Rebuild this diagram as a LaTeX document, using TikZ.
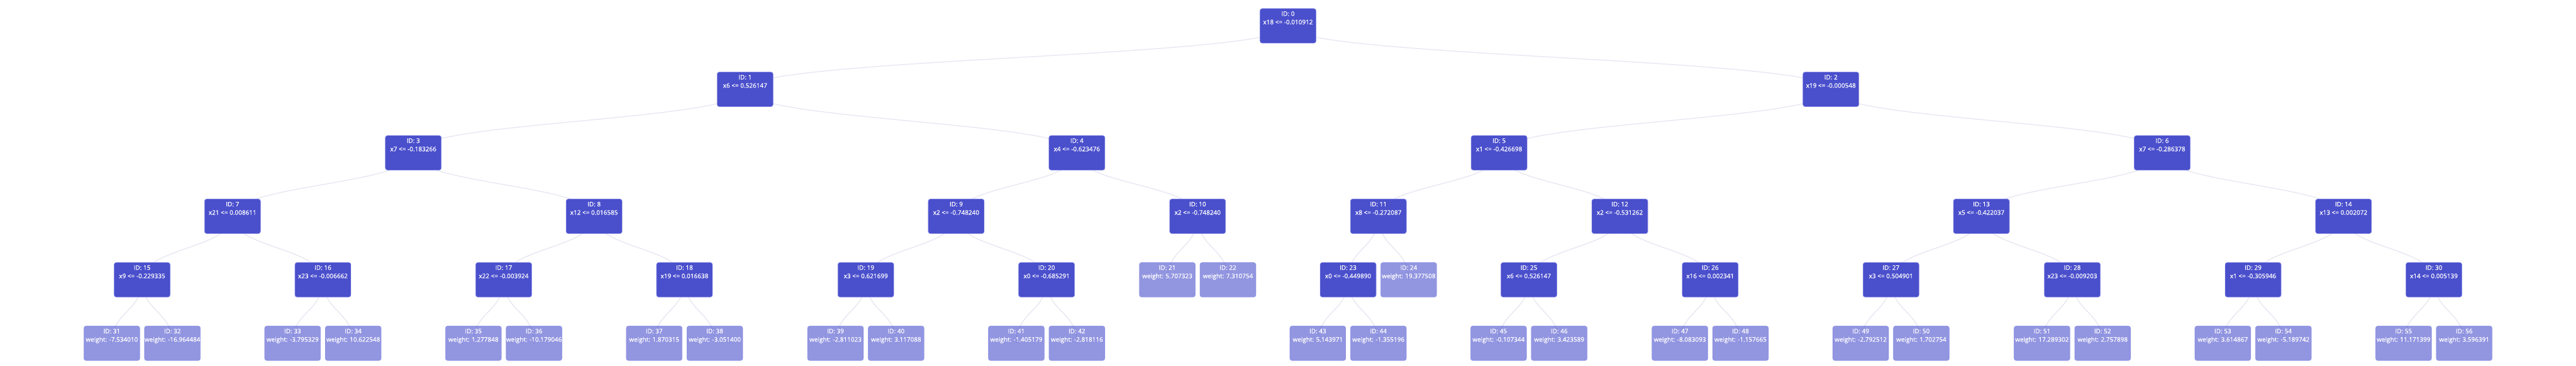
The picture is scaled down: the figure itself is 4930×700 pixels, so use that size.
\documentclass[tikz,border=0pt]{standalone}
\usepackage{fontspec}
\setmainfont{Open Sans}
\newfontfamily\boxfont{Open Sans}[FakeBold=0.8]
\usetikzlibrary{calc,backgrounds}

\definecolor{nodeblue}{RGB}{74,79,204}
\definecolor{rimblue}{RGB}{128,132,226}
\definecolor{linkgray}{RGB}{230,230,242}

\tikzset{
  box/.style={rectangle, rounded corners=4pt, minimum width=107pt, inner xsep=0pt, inner ysep=0pt,
    text height=30pt, text depth=36pt, align=center, text=white, font=\boxfont\fontsize{12}{16}\selectfont},
  split/.style={box, fill=nodeblue, draw=rimblue, line width=0.8pt},
  leaf/.style={box, fill=nodeblue, fill opacity=0.6, draw=rimblue, draw opacity=0.6, text opacity=1, line width=0.8pt},
  link/.style={draw=linkgray, line width=1.6pt,
    to path={.. controls ($(\tikztostart)!0.5!(\tikztostart|-\tikztotarget)$) and ($(\tikztotarget)!0.5!(\tikztotarget|-\tikztostart)$) .. (\tikztotarget)}}
}

\begin{document}
\begin{tikzpicture}[x=1pt,y=-1pt]
  \useasboundingbox (0,0) rectangle (4930,700);

  % split nodes, level by level
  \node[split] (n0) at (2465,49.5) {ID: 0\\x18 <= -0.010912};
  \foreach \id/\x/\lbl in {1/1426/x6 <= 0.526147, 2/3504/x19 <= -0.000548}
    \node[split] (n\id) at (\x,171) {ID: \id\\\lbl};
  \foreach \id/\x/\lbl in {3/791/x7 <= -0.183266, 4/2061/x4 <= -0.623476,
      5/2869/x1 <= -0.426698, 6/4138/x7 <= -0.286378}
    \node[split] (n\id) at (\x,292.5) {ID: \id\\\lbl};
  \foreach \id/\x/\lbl in {7/445/x21 <= 0.008611, 8/1137/x12 <= 0.016585,
      9/1830/x2 <= -0.748240, 10/2292/x2 <= -0.748240, 11/2638/x8 <= -0.272087,
      12/3100/x2 <= -0.531262, 13/3792/x5 <= -0.422037, 14/4485/x13 <= 0.002072}
    \node[split] (n\id) at (\x,414) {ID: \id\\\lbl};
  \foreach \id/\x/\lbl in {15/272/x9 <= -0.229335, 16/618/x23 <= -0.006662,
      17/964/x22 <= -0.003924, 18/1310/x19 <= 0.016638, 19/1657/x3 <= 0.621699,
      20/2003/x0 <= -0.685291, 23/2580/x0 <= -0.449890, 25/2926/x6 <= 0.526147,
      26/3273/x16 <= 0.002341, 27/3619/x3 <= 0.504901, 28/3966/x23 <= -0.009203,
      29/4312/x1 <= -0.305946, 30/4658/x14 <= 0.005139}
    \node[split] (n\id) at (\x,535.5) {ID: \id\\\lbl};

  % leaves
  \foreach \id/\x/\w in {21/2234/5.707323, 22/2350/7.310754, 24/2696/19.377508}
    \node[leaf] (n\id) at (\x,535.5) {ID: \id\\weight: \w};
  \foreach \id/\x/\w in {31/214/-7.534010, 32/330/-16.964484, 33/560/-3.795329,
      34/676/10.622548, 35/906/1.277848, 36/1022/-10.179046, 37/1252/1.870315,
      38/1368/-3.051400, 39/1599/-2.811023, 40/1715/3.117088, 41/1945/-1.405179,
      42/2061/-2.818116, 43/2522/5.143971, 44/2638/-1.355196, 45/2868/-0.107344,
      46/2984/3.423589, 47/3215/-8.083093, 48/3331/-1.157665, 49/3561/-2.792512,
      50/3677/1.702754, 51/3908/17.289302, 52/4024/2.757898, 53/4254/3.614867,
      54/4370/-5.189742, 55/4600/11.171399, 56/4716/3.596391}
    \node[leaf] (n\id) at (\x,657) {ID: \id\\weight: \w};

  % links, behind the boxes
  \begin{scope}[on background layer]
    \foreach \p/\c in {0/1,0/2,1/3,1/4,2/5,2/6,3/7,3/8,4/9,4/10,5/11,5/12,6/13,6/14,
        7/15,7/16,8/17,8/18,9/19,9/20,10/21,10/22,11/23,11/24,12/25,12/26,13/27,13/28,
        14/29,14/30,15/31,15/32,16/33,16/34,17/35,17/36,18/37,18/38,19/39,19/40,
        20/41,20/42,23/43,23/44,25/45,25/46,26/47,26/48,27/49,27/50,28/51,28/52,
        29/53,29/54,30/55,30/56}
      \draw[link] (n\p.center) to (n\c.center);
  \end{scope}
\end{tikzpicture}
\end{document}
